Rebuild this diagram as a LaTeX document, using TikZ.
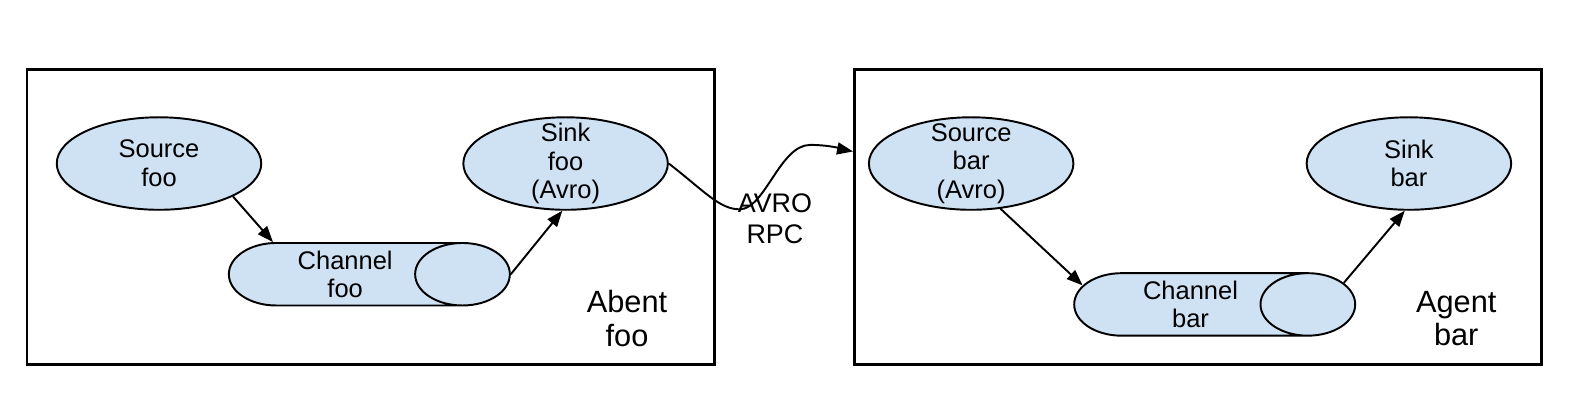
\documentclass[tikz,border=0pt]{standalone}
\usepackage{fontspec}
\setmainfont{Liberation Sans}
\usetikzlibrary{shapes.geometric,arrows.meta}
\definecolor{flumeblue}{HTML}{CFE2F3}

\begin{document}
\begin{tikzpicture}[
  x=0.020128cm, y=-0.020128cm,
  agent/.style={draw, line width=1.5pt},
  comp/.style={ellipse, draw, fill=flumeblue, line width=1.1pt, minimum width=4.09cm, minimum height=1.85cm, inner sep=0pt},
  chan/.style={cylinder, draw, fill=flumeblue, line width=1.1pt, aspect=2.0, minimum width=1.25cm, minimum height=5.62cm, inner sep=0pt, align=center, font=\fontsize{14.5}{16.3}\selectfont},
  txt/.style={align=center, font=\fontsize{14.5}{16.3}\selectfont},
  flow/.style={draw, line width=1.1pt, -{Triangle[length=0.32cm, width=0.24cm]}},
  tag/.style={align=center, font=\fontsize{17.5}{18.8}\selectfont}
]
  \useasboundingbox (0,0) rectangle (1568,401);

  % Agent boxes
  \draw[agent] (27,69) rectangle (710,362);
  \draw[agent] (849,69) rectangle (1532,362);

  % Agent foo
  \node[comp] (srcfoo) at (158,162.5) {};
  \node[txt] (srcfootxt) at (srcfoo) {Source\\foo};
  \node[comp] (sinkfoo) at (562,162.5) {};
  \node[txt] (sinkfootxt) at (sinkfoo) {Sink\\foo\\(Avro)};
  \node[chan] (chfoo) at (343,272.5) {Channel\\foo};
  \node[tag] (agfoo) at (623,316.5) {Abent\\foo};
  \draw[flow] (srcfoo.-24) -- (chfoo.156);
  \draw[flow] (chfoo.east) -- (sinkfoo.-94);

  % Agent bar
  \node[comp] (srcbar) at (965,162.5) {};
  \node[txt] (srcbartxt) at (srcbar) {Source\\bar\\(Avro)};
  \node[comp] (sinkbar) at (1400,162.5) {};
  \node[txt] (sinkbartxt) at (sinkbar) {Sink\\bar};
  \node[chan] (chbar) at (1183,302.5) {Channel\\bar};
  \node[tag] (agbar) at (1447,316.5) {Agent\\bar};
  \draw[flow] (srcbar.-57) -- (chbar.170);
  \draw[flow] (chbar.8) -- (sinkbar.-95);

  % RPC link
  \node[txt, font=\fontsize{15.3}{17.5}\selectfont] (rpc) at (770,217) {AVRO\\RPC};
  \draw[flow, shorten >=0.34cm] (sinkfoo.east) .. controls (700,190) and (715,208) .. (735,208)
    .. controls (760,208) and (775,144) .. (805,144)
    .. controls (828,144) and (845,150) .. (srcbar.175);
\end{tikzpicture}
\end{document}
